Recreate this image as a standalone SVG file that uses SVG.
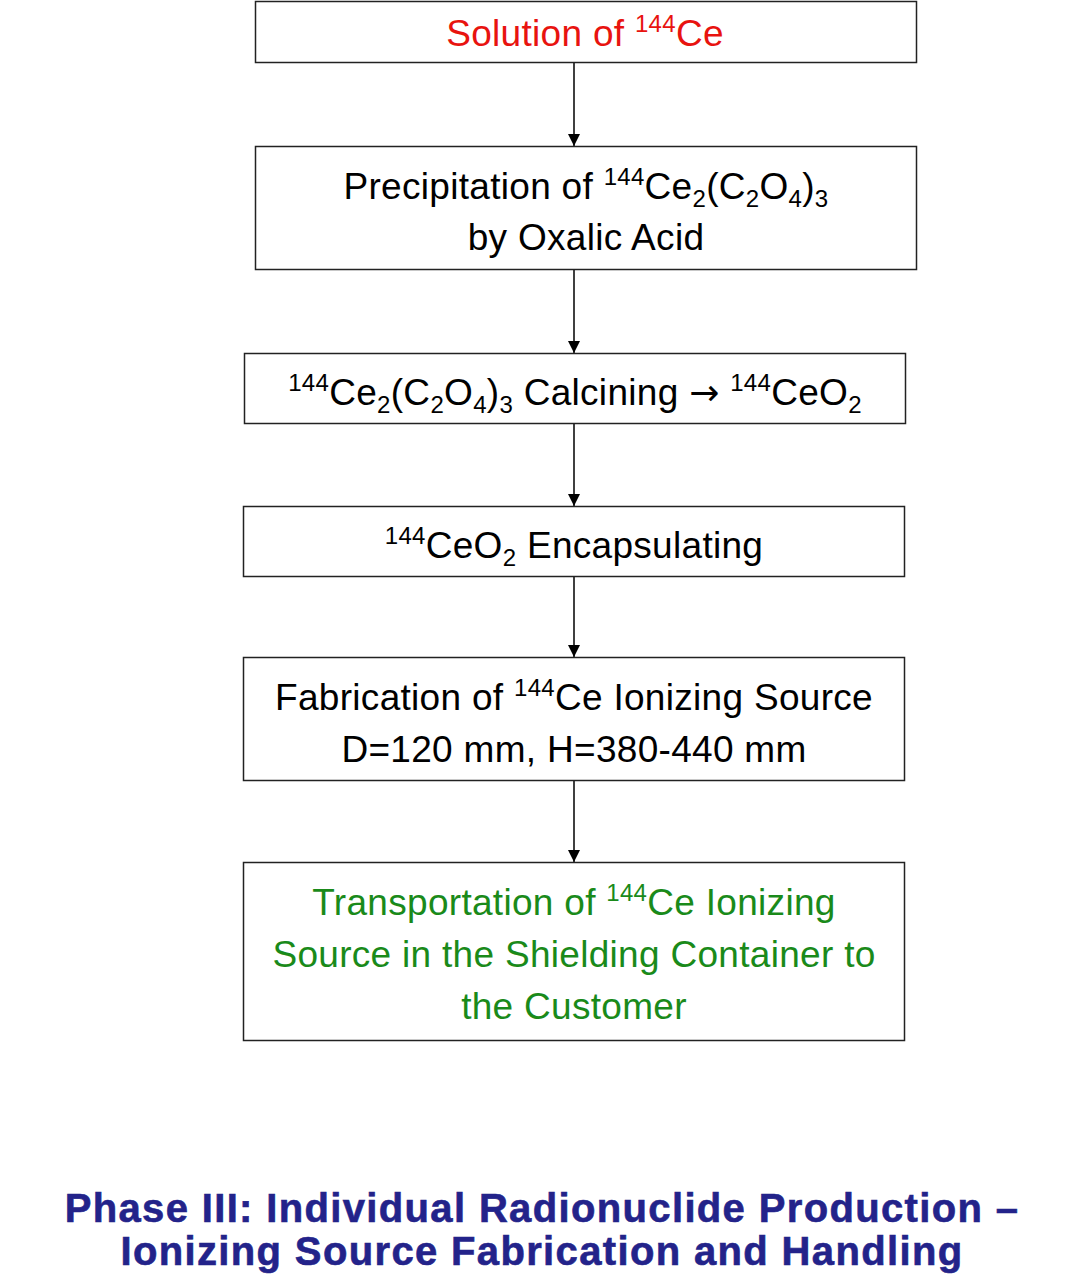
<svg xmlns="http://www.w3.org/2000/svg" width="1083" height="1282" viewBox="0 0 1083 1282">
<defs>
<style>
.box{fill:#fff;stroke:#222;stroke-width:1.5}
.t{font-family:"Liberation Sans",Arial,sans-serif;font-size:37px;letter-spacing:0.3px;fill:#000;text-anchor:middle}
.s{font-size:24px}
.red{fill:#e8130f}
.green{fill:#1a8a1a}
.cap{font-family:"Liberation Sans",Arial,sans-serif;font-weight:bold;font-size:40px;letter-spacing:1.35px;fill:#23238a;stroke:#23238a;stroke-width:0.6;text-anchor:middle}
.edge{stroke:#000;stroke-width:1.5;fill:none;marker-end:url(#ah)}
</style>
<marker id="ah" viewBox="0 0 10 10" refX="10" refY="5" markerWidth="12" markerHeight="12" markerUnits="userSpaceOnUse" orient="auto">
<path d="M0,0 L10,5 L0,10 z" fill="#000"/>
</marker>
</defs>
<rect width="1083" height="1282" fill="#fff"/>
<g id="edges">
<line class="edge" x1="574" y1="62" x2="574" y2="146"/>
<line class="edge" x1="574" y1="270" x2="574" y2="353"/>
<line class="edge" x1="574" y1="424" x2="574" y2="506"/>
<line class="edge" x1="574" y1="577" x2="574" y2="657"/>
<line class="edge" x1="574" y1="781" x2="574" y2="862"/>
</g>
<g id="n1">
<rect class="box" x="255.5" y="1.5" width="661" height="61"/>
<text class="t red" x="585" y="46">Solution of <tspan class="s" dy="-14">144</tspan><tspan dy="14">Ce</tspan></text>
</g>
<g id="n2">
<rect class="box" x="255.5" y="146.5" width="661" height="123"/>
<text class="t" x="586" y="199">Precipitation of <tspan class="s" dy="-14">144</tspan><tspan dy="14">Ce</tspan><tspan class="s" dy="8">2</tspan><tspan dy="-8">(C</tspan><tspan class="s" dy="8">2</tspan><tspan dy="-8">O</tspan><tspan class="s" dy="8">4</tspan><tspan dy="-8">)</tspan><tspan class="s" dy="8">3</tspan></text>
<text class="t" x="586" y="250">by Oxalic Acid</text>
</g>
<g id="n3">
<rect class="box" x="244.5" y="353.5" width="661" height="70"/>
<text class="t" x="575" y="405"><tspan class="s" dy="-14">144</tspan><tspan dy="14">Ce</tspan><tspan class="s" dy="8">2</tspan><tspan dy="-8">(C</tspan><tspan class="s" dy="8">2</tspan><tspan dy="-8">O</tspan><tspan class="s" dy="8">4</tspan><tspan dy="-8">)</tspan><tspan class="s" dy="8">3</tspan><tspan dy="-8"> Calcining </tspan><tspan font-family="DejaVu Sans" font-size="36">→</tspan><tspan> </tspan><tspan class="s" dy="-14">144</tspan><tspan dy="14">CeO</tspan><tspan class="s" dy="8">2</tspan></text>
</g>
<g id="n4">
<rect class="box" x="243.5" y="506.5" width="661" height="70"/>
<text class="t" x="574" y="558"><tspan class="s" dy="-14">144</tspan><tspan dy="14">CeO</tspan><tspan class="s" dy="8">2</tspan><tspan dy="-8"> Encapsulating</tspan></text>
</g>
<g id="n5">
<rect class="box" x="243.5" y="657.5" width="661" height="123"/>
<text class="t" x="574" y="710">Fabrication of <tspan class="s" dy="-14">144</tspan><tspan dy="14">Ce Ionizing Source</tspan></text>
<text class="t" x="574" y="762">D=120 mm, H=380-440 mm</text>
</g>
<g id="n6">
<rect class="box" x="243.5" y="862.5" width="661" height="178"/>
<text class="t green" x="574" y="915">Transportation of <tspan class="s" dy="-14">144</tspan><tspan dy="14">Ce Ionizing</tspan></text>
<text class="t green" x="574" y="967">Source in the Shielding Container to</text>
<text class="t green" x="574" y="1019">the Customer</text>
</g>
<g id="caption">
<text class="cap" x="542" y="1222">Phase III: Individual Radionuclide Production –</text>
<text class="cap" x="542" y="1265">Ionizing Source Fabrication and Handling</text>
</g>
</svg>
